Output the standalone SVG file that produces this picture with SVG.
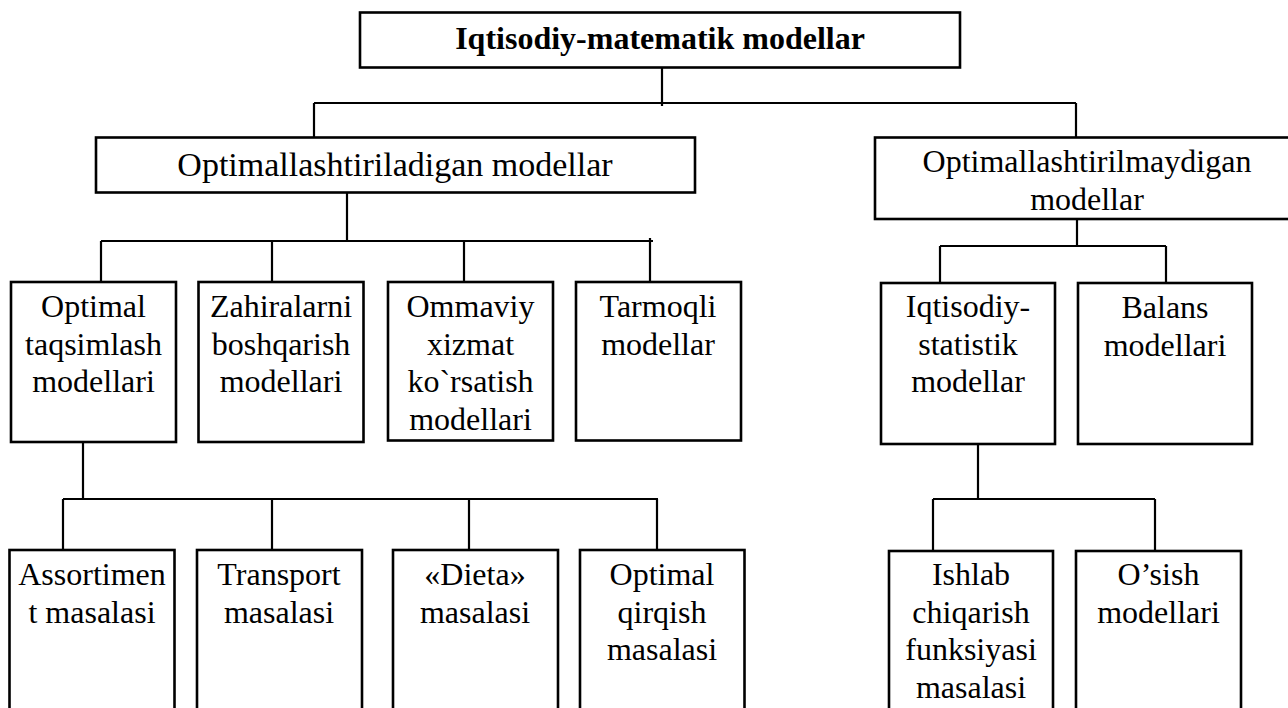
<svg xmlns="http://www.w3.org/2000/svg" width="1288" height="708" viewBox="0 0 1288 708">
<style>
.box{fill:#fff;stroke:#000;stroke-width:2.6}
.ln{fill:none;stroke:#000;stroke-width:2.2}
text{font-family:"Liberation Serif","Times New Roman",serif;font-size:32px;fill:#000;text-anchor:middle}
.b{font-weight:bold}
.big{font-size:34px}
</style>
<rect width="1288" height="708" fill="#fff"/>
<g id="connectors">
<path class="ln" d="M662 68V106M314 103H1076M314 103V137M1076 103V137"/>
<path class="ln" d="M347 193V241M101 241H653M101 241V282M272 241V282M464 241V282M650 238V282"/>
<path class="ln" d="M83 442V499M63 499H658M63 499V550M272 499V550M469 499V550M657 499V550"/>
<path class="ln" d="M1077 219V246M940 246H1166M940 246V283M1166 246V283"/>
<path class="ln" d="M978 444V499M933 499H1155M933 499V551M1155 499V551"/>
</g>
<g id="root"><rect class="box" x="360" y="12.5" width="600" height="55"/><text class="b" x="660" y="49">Iqtisodiy-matematik modellar</text></g>
<g id="opt"><rect class="box" x="96" y="137.5" width="599" height="55"/><text class="big" x="395" y="176">Optimallashtiriladigan modellar</text></g>
<g id="nonopt"><rect class="box" x="875" y="137.5" width="430" height="81.5"/><text x="1087" y="172">Optimallashtirilmaydigan</text><text x="1087" y="210">modellar</text></g>
<g id="n1"><rect class="box" x="11" y="282" width="165" height="160"/><text x="93.5" y="317">Optimal</text><text x="93.5" y="354.5">taqsimlash</text><text x="93.5" y="392">modellari</text></g>
<g id="n2"><rect class="box" x="198.5" y="282" width="165" height="160"/><text x="281" y="317">Zahiralarni</text><text x="281" y="354.5">boshqarish</text><text x="281" y="392">modellari</text></g>
<g id="n3"><rect class="box" x="388" y="282" width="165" height="158.5"/><text x="470.5" y="317">Ommaviy</text><text x="470.5" y="354.5">xizmat</text><text x="470.5" y="392">ko`rsatish</text><text x="470.5" y="429.5">modellari</text></g>
<g id="n4"><rect class="box" x="576" y="282" width="165" height="158.5"/><text x="658" y="317">Tarmoqli</text><text x="658" y="354.5">modellar</text></g>
<g id="n5"><rect class="box" x="881" y="283" width="174" height="161"/><text x="968" y="317">Iqtisodiy-</text><text x="968" y="355">statistik</text><text x="968" y="392">modellar</text></g>
<g id="n6"><rect class="box" x="1078" y="283" width="174" height="161"/><text x="1165" y="318">Balans</text><text x="1165" y="356">modellari</text></g>
<g id="m1"><rect class="box" x="9.5" y="550" width="165" height="180"/><text x="92" y="585">Assortimen</text><text x="92" y="622.5">t masalasi</text></g>
<g id="m2"><rect class="box" x="197" y="550" width="165" height="180"/><text x="279" y="585">Transport</text><text x="279" y="622.5">masalasi</text></g>
<g id="m3"><rect class="box" x="393" y="550" width="165" height="180"/><text x="475" y="585">«Dieta»</text><text x="475" y="622.5">masalasi</text></g>
<g id="m4"><rect class="box" x="580" y="550" width="164.5" height="180"/><text x="662" y="585">Optimal</text><text x="662" y="622.5">qirqish</text><text x="662" y="660">masalasi</text></g>
<g id="m5"><rect class="box" x="889" y="551" width="164" height="180"/><text x="971" y="585">Ishlab</text><text x="971" y="622.5">chiqarish</text><text x="971" y="660">funksiyasi</text><text x="971" y="697.5">masalasi</text></g>
<g id="m6"><rect class="box" x="1076" y="551" width="165" height="180"/><text x="1158.5" y="585">O’sish</text><text x="1158.5" y="622.5">modellari</text></g>
</svg>
